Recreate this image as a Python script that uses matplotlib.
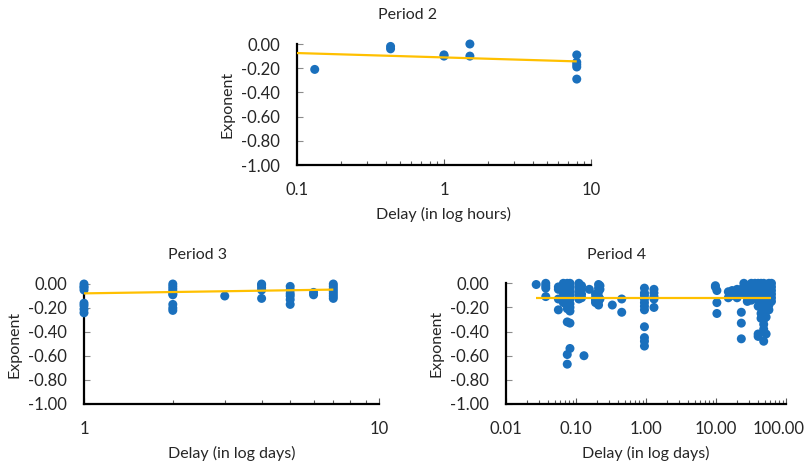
import matplotlib
matplotlib.use("Agg")
import matplotlib.pyplot as plt
import matplotlib.transforms as mtransforms
import numpy as np
from matplotlib.ticker import LogLocator, FixedLocator, FixedFormatter, NullFormatter

plt.rcParams["font.family"] = ["Lato", "DejaVu Sans"]

# Period 2 (delay in hours)
p2_x = [0.132, 0.433, 0.433, 1.0, 1.0, 1.5, 1.5, 8.0, 8.0, 8.0, 8.0, 8.0]
p2_y = [-0.21, -0.02, -0.04, -0.09, -0.10, 0.00, -0.10, -0.09, -0.15, -0.17, -0.19, -0.29]
p2_trend = (-0.111, -0.0363, 0.1, 8.0)  # intercept, slope per decade, x from, x to

# Period 3 (delay in days), columns of points
p3_cols = {
    1: [0.00, -0.02, -0.03, -0.05, -0.16, -0.18, -0.21, -0.24],
    2: [0.00, -0.02, -0.04, -0.06, -0.08, -0.09, -0.17, -0.20, -0.22],
    3: [-0.10],
    4: [0.00, -0.01, -0.03, -0.05, -0.12],
    5: [-0.02, -0.05, -0.08, -0.10, -0.13, -0.17],
    6: [-0.07, -0.09],
    7: [0.00, -0.02, -0.04, -0.06, -0.08, -0.10, -0.12],
}
p3_trend = (-0.078, 0.037, 1.0, 7.0)

# Period 4 (delay in days), columns of points
p4_cols = {
    0.027: [-0.01],
    0.037: [0.00, -0.02, -0.04, -0.11],
    0.056: [-0.03, -0.05, -0.13, -0.22],
    0.066: [0.00, -0.02, -0.05, -0.08, -0.11, -0.13, -0.16],
    0.075: [0.00, -0.01, -0.03, -0.05, -0.07, -0.09, -0.12, -0.15, -0.18, -0.21, -0.32, -0.59, -0.67],
    0.082: [0.00, -0.02, -0.04, -0.07, -0.10, -0.13, -0.17, -0.20, -0.23, -0.33, -0.54],
    0.11: [0.00, -0.03, -0.06, -0.08, -0.10, -0.13],
    0.12: [-0.02, -0.05, -0.09, -0.12],
    0.13: [-0.60],
    0.155: [-0.05],
    0.19: [-0.09, -0.12, -0.14, -0.16],
    0.21: [-0.01, -0.04, -0.07, -0.11, -0.15, -0.18],
    0.22: [-0.02, -0.05, -0.13],
    0.33: [-0.18],
    0.45: [-0.13, -0.24],
    0.95: [-0.04, -0.08, -0.10, -0.13, -0.16, -0.19, -0.22, -0.36, -0.45, -0.48, -0.52],
    1.3: [-0.05, -0.08, -0.11, -0.13, -0.20],
    9.8: [-0.02, -0.03],
    10.3: [-0.06, -0.16, -0.25],
    15: [-0.07, -0.12],
    17: [-0.06, -0.10],
    20: [-0.05, -0.08, -0.12],
    23: [-0.05, -0.24, -0.33, -0.46],
    25: [0.00, -0.03, -0.06, -0.09],
    28: [-0.02, -0.07, -0.12, -0.15],
    32: [0.00, -0.04, -0.08, -0.11, -0.14],
    36: [0.00, -0.02, -0.05, -0.09],
    40: [0.00, -0.03, -0.06, -0.10, -0.14, -0.19, -0.42, -0.44],
    44: [0.00, -0.02, -0.05, -0.08, -0.12, -0.16, -0.20, -0.25, -0.29],
    48: [0.00, -0.03, -0.06, -0.09, -0.12, -0.15, -0.18, -0.22, -0.26, -0.30, -0.34, -0.38, -0.48],
    52: [-0.01, -0.04, -0.08, -0.11, -0.14, -0.17, -0.21, -0.28, -0.42],
    57: [0.00, -0.02, -0.05, -0.08, -0.11, -0.14, -0.18, -0.22],
    62: [0.00, -0.03, -0.06, -0.09, -0.12, -0.15],
}
p4_trend = (-0.119, 0.0, 0.027, 62.0)

y_ticks = [0.0, -0.2, -0.4, -0.6, -0.8, -1.0]
y_ticklabels = ["0.00", "-0.20", "-0.40", "-0.60", "-0.80", "-1.00"]

DOT = "#1A70BD"
TREND = "#FFC000"
TXT = "#262626"


def flatten(cols):
    xs, ys = [], []
    for k, v in cols.items():
        xs += [k] * len(v)
        ys += v
    return xs, ys


def panel(rect, x, y, trend, xlim, xticks, xticklabels, xlabel, title, title_xy):
    ax = fig.add_axes(rect)
    ax.set_xscale("log")
    ax.scatter(x, y, s=42, color=DOT, edgecolors="none", zorder=3, clip_on=False)
    a, b, x0, x1 = trend
    tx = np.array([x0, x1])
    ax.plot(tx, a + b * np.log10(tx), color=TREND, lw=1.6, zorder=4, solid_capstyle="butt")
    ax.set_xlim(*xlim)
    ax.set_ylim(-1.0, 0.0)
    ax.yaxis.set_major_locator(FixedLocator(y_ticks))
    ax.yaxis.set_major_formatter(FixedFormatter(y_ticklabels))
    ax.xaxis.set_major_locator(FixedLocator(xticks))
    ax.xaxis.set_major_formatter(FixedFormatter(xticklabels))
    ax.xaxis.set_minor_locator(LogLocator(base=10, subs=np.arange(2, 10), numticks=20))
    ax.xaxis.set_minor_formatter(NullFormatter())
    for s in ["top", "right"]:
        ax.spines[s].set_visible(False)
    for s in ["left", "bottom"]:
        ax.spines[s].set_linewidth(1.6)
        ax.spines[s].set_color("black")
    ax.tick_params(axis="y", direction="in", length=4, width=0.8, color="#8c8c8c",
                   labelsize=12, labelcolor=TXT, pad=12)
    ax.tick_params(axis="x", which="major", direction="in", length=4, width=0.8, color="#595959",
                   labelsize=12, labelcolor=TXT, pad=12)
    ax.tick_params(axis="x", which="minor", direction="in", length=3, width=0.8, color="#595959")
    ax.set_xlabel(xlabel, fontsize=11.5, color=TXT, labelpad=7)
    ax.set_ylabel("Exponent", fontsize=11.5, color=TXT, labelpad=5)
    fig.text(title_xy[0] / 811, 1 - title_xy[1] / 468, title, fontsize=11.5, color=TXT,
             ha="center", va="center")
    return ax


fig = plt.figure(figsize=(8.11, 4.68), dpi=100)

panel([297 / 811, 1 - 165 / 468, 294 / 811, 121 / 468], p2_x, p2_y, p2_trend,
      (0.1, 10), [0.1, 1, 10], ["0.1", "1", "10"], "Delay (in log hours)", "Period 2", (408, 15))

x3, y3 = flatten(p3_cols)
panel([84 / 811, 1 - 404 / 468, 295 / 811, 120 / 468], x3, y3, p3_trend,
      (1, 10), [1, 10], ["1", "10"], "Delay (in log days)", "Period 3", (197, 255))

x4, y4 = flatten(p4_cols)
ax4 = panel([506 / 811, 1 - 404 / 468, 280 / 811, 120.7 / 468], x4, y4, p4_trend,
            (0.01, 100), [0.01, 0.1, 1, 10, 100], ["0.01", "0.10", "1.00", "10.00", "100.00"],
            "Delay (in log days)", "Period 4", (617, 255))
# the last label is pulled in so it stays inside the figure, as in the original
last = ax4.get_xticklabels()[-1]
last.set_transform(last.get_transform() + mtransforms.ScaledTranslation(-7 / 100, 0, fig.dpi_scale_trans))

fig.savefig("out.png", dpi=100)
